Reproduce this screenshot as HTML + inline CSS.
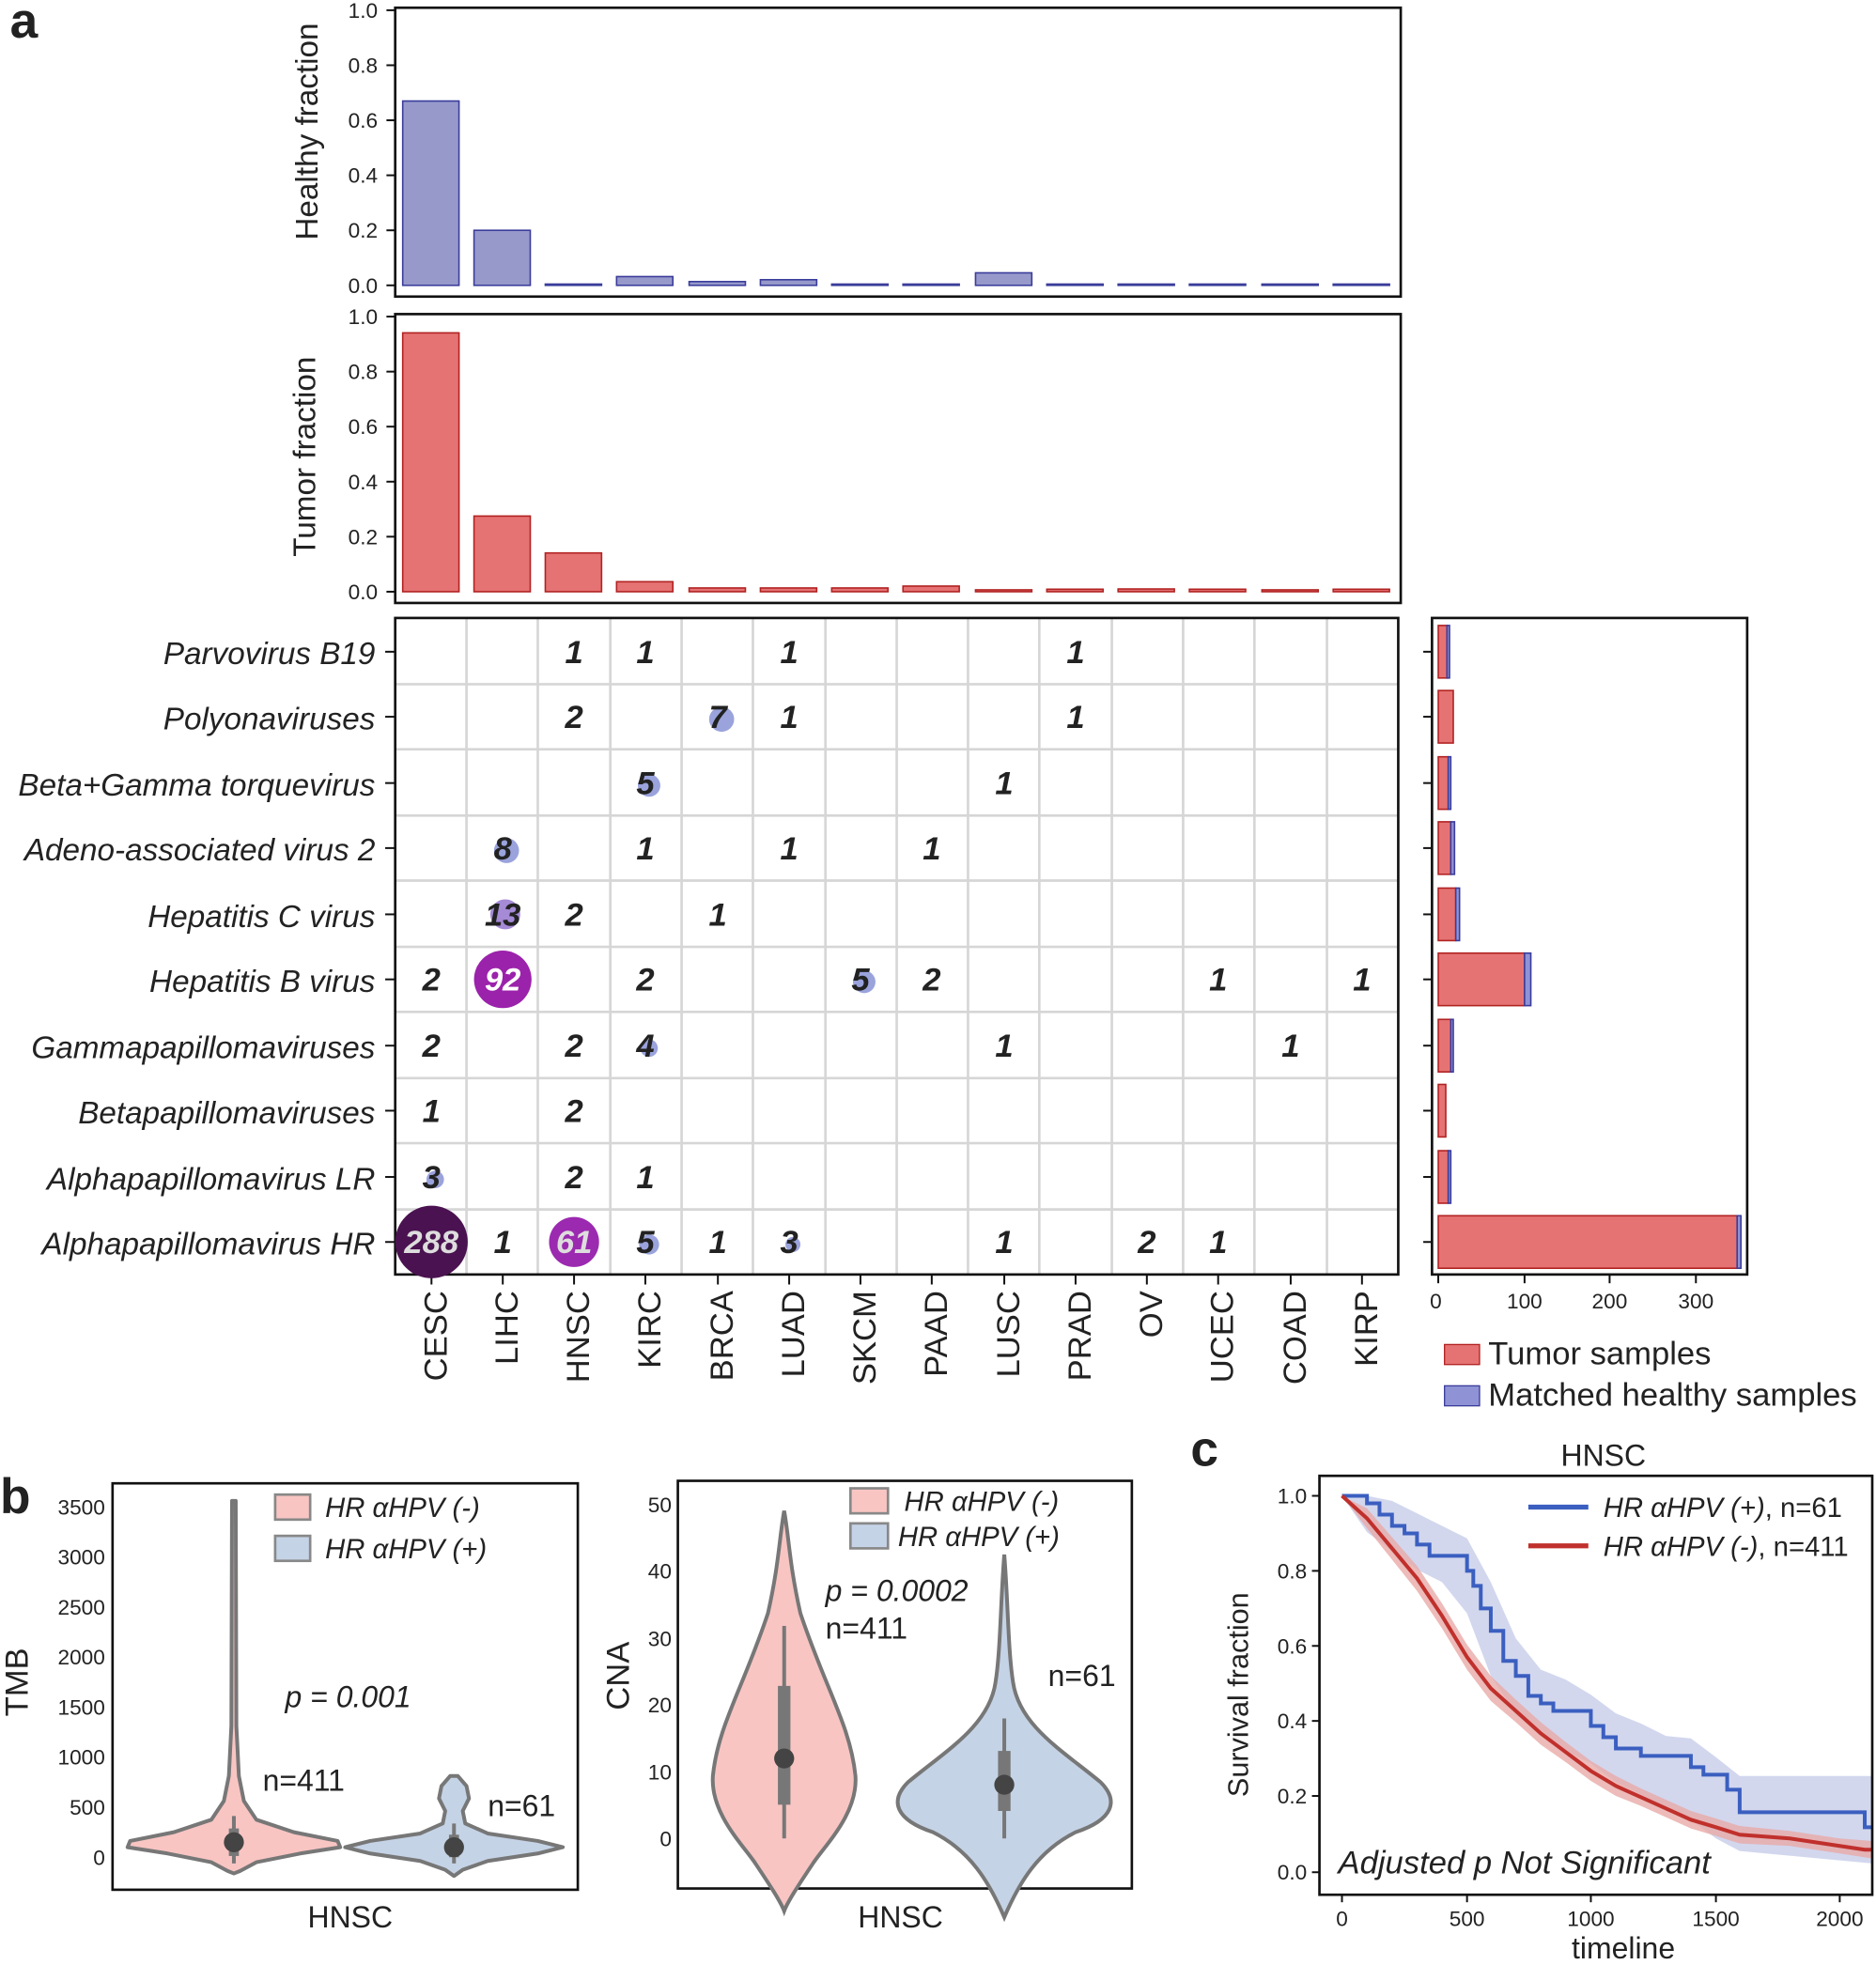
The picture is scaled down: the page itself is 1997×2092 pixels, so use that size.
<!DOCTYPE html>
<html><head><meta charset="utf-8"><style>
html,body{margin:0;padding:0;background:#fff}
svg{display:block}
text{font-family:"Liberation Sans",Arial,sans-serif;fill:#222}
.t{font-size:17px}
.lab{font-size:25px;font-style:italic;text-anchor:end}
.num{font-size:26px;font-style:italic;font-weight:bold;text-anchor:middle;fill:#333}
.xl{font-size:26px}
</style></head><body>
<svg width="1997" height="2092" viewBox="0 0 1500 1571" xmlns="http://www.w3.org/2000/svg">
<text x="8" y="30" style="font-size:40px;font-weight:bold">a</text>
<text x="0" y="1210" style="font-size:40px;font-weight:bold">b</text>
<text x="952" y="1172" style="font-size:40px;font-weight:bold">c</text>

<!-- Healthy panel -->
<g fill="#9799cb" stroke="#3a3c9a" stroke-width="1.2">
<rect x="322" y="80.6" width="45" height="147.4"/>
<rect x="379" y="184" width="45" height="44"/>
<rect x="436" y="227" width="45" height="1"/>
<rect x="493" y="221" width="45" height="7"/>
<rect x="551" y="225" width="45" height="3"/>
<rect x="608" y="223.5" width="45" height="4.5"/>
<rect x="665" y="227" width="45" height="1"/>
<rect x="722" y="227" width="45" height="1"/>
<rect x="780" y="218" width="45" height="10"/>
<rect x="837" y="227" width="45" height="1"/>
<rect x="894" y="227" width="45" height="1"/>
<rect x="951" y="227" width="45" height="1"/>
<rect x="1009" y="227" width="45" height="1"/>
<rect x="1066" y="227" width="45" height="1"/>
</g>
<rect x="316" y="6" width="804" height="231" fill="none" stroke="#111" stroke-width="2"/>
<g class="t" text-anchor="end">
<text x="302" y="14">1.0</text><text x="302" y="58">0.8</text><text x="302" y="102">0.6</text><text x="302" y="146">0.4</text><text x="302" y="190">0.2</text><text x="302" y="234">0.0</text>
</g>
<g stroke="#111" stroke-width="1.5"><line x1="309" y1="8" x2="316" y2="8"/><line x1="309" y1="52" x2="316" y2="52"/><line x1="309" y1="96" x2="316" y2="96"/><line x1="309" y1="140" x2="316" y2="140"/><line x1="309" y1="184" x2="316" y2="184"/><line x1="309" y1="228" x2="316" y2="228"/></g>
<text transform="translate(254,105) rotate(-90)" style="font-size:25px" text-anchor="middle">Healthy fraction</text>

<!-- Tumor panel -->
<g fill="#e57373" stroke="#b22222" stroke-width="1.2">
<rect x="322" y="266" width="45" height="207"/>
<rect x="379" y="412.5" width="45" height="60.5"/>
<rect x="436" y="442" width="45" height="31"/>
<rect x="493" y="465" width="45" height="8"/>
<rect x="551" y="470" width="45" height="3"/>
<rect x="608" y="470" width="45" height="3"/>
<rect x="665" y="470" width="45" height="3"/>
<rect x="722" y="468.5" width="45" height="4.5"/>
<rect x="780" y="471.5" width="45" height="1.5"/>
<rect x="837" y="471" width="45" height="2"/>
<rect x="894" y="470.8" width="45" height="2.2"/>
<rect x="951" y="471" width="45" height="2"/>
<rect x="1009" y="471.5" width="45" height="1.5"/>
<rect x="1066" y="471" width="45" height="2"/>
</g>
<rect x="316" y="251" width="804" height="231" fill="none" stroke="#111" stroke-width="2"/>
<g class="t" text-anchor="end">
<text x="302" y="259">1.0</text><text x="302" y="303">0.8</text><text x="302" y="347">0.6</text><text x="302" y="391">0.4</text><text x="302" y="435">0.2</text><text x="302" y="479">0.0</text>
</g>
<g stroke="#111" stroke-width="1.5"><line x1="309" y1="253" x2="316" y2="253"/><line x1="309" y1="297" x2="316" y2="297"/><line x1="309" y1="341" x2="316" y2="341"/><line x1="309" y1="385" x2="316" y2="385"/><line x1="309" y1="429" x2="316" y2="429"/><line x1="309" y1="473" x2="316" y2="473"/></g>
<text transform="translate(252,365) rotate(-90)" style="font-size:25px" text-anchor="middle">Tumor fraction</text>

<!-- Grid panel -->
<g stroke="#d6d6d6" stroke-width="2">
<line x1="373" y1="494" x2="373" y2="1019"/><line x1="430" y1="494" x2="430" y2="1019"/><line x1="488" y1="494" x2="488" y2="1019"/><line x1="545" y1="494" x2="545" y2="1019"/><line x1="602" y1="494" x2="602" y2="1019"/><line x1="660" y1="494" x2="660" y2="1019"/><line x1="717" y1="494" x2="717" y2="1019"/><line x1="774" y1="494" x2="774" y2="1019"/><line x1="831" y1="494" x2="831" y2="1019"/><line x1="889" y1="494" x2="889" y2="1019"/><line x1="946" y1="494" x2="946" y2="1019"/><line x1="1003" y1="494" x2="1003" y2="1019"/><line x1="1061" y1="494" x2="1061" y2="1019"/>
<line x1="316" y1="547" x2="1118" y2="547"/><line x1="316" y1="599" x2="1118" y2="599"/><line x1="316" y1="652" x2="1118" y2="652"/><line x1="316" y1="704" x2="1118" y2="704"/><line x1="316" y1="757" x2="1118" y2="757"/><line x1="316" y1="809" x2="1118" y2="809"/><line x1="316" y1="862" x2="1118" y2="862"/><line x1="316" y1="914" x2="1118" y2="914"/><line x1="316" y1="967" x2="1118" y2="967"/>
</g>
<rect x="316" y="494" width="802" height="525" fill="none" stroke="#111" stroke-width="2"/>
<g class="lab">
<text x="300" y="531">Parvovirus B19</text>
<text x="300" y="583">Polyonaviruses</text>
<text x="300" y="636">Beta+Gamma torquevirus</text>
<text x="300" y="688">Adeno-associated virus 2</text>
<text x="300" y="741">Hepatitis C virus</text>
<text x="300" y="793">Hepatitis B virus</text>
<text x="300" y="846">Gammapapillomaviruses</text>
<text x="300" y="898">Betapapillomaviruses</text>
<text x="300" y="951">Alphapapillomavirus LR</text>
<text x="300" y="1003">Alphapapillomavirus HR</text>
</g>
<g stroke="#111" stroke-width="1.5">
<line x1="308" y1="521" x2="316" y2="521"/><line x1="308" y1="573" x2="316" y2="573"/><line x1="308" y1="626" x2="316" y2="626"/><line x1="308" y1="678" x2="316" y2="678"/><line x1="308" y1="731" x2="316" y2="731"/><line x1="308" y1="783" x2="316" y2="783"/><line x1="308" y1="836" x2="316" y2="836"/><line x1="308" y1="888" x2="316" y2="888"/><line x1="308" y1="941" x2="316" y2="941"/><line x1="308" y1="993" x2="316" y2="993"/>
<line x1="345" y1="1019" x2="345" y2="1027"/><line x1="402" y1="1019" x2="402" y2="1027"/><line x1="459" y1="1019" x2="459" y2="1027"/><line x1="516" y1="1019" x2="516" y2="1027"/><line x1="574" y1="1019" x2="574" y2="1027"/><line x1="631" y1="1019" x2="631" y2="1027"/><line x1="688" y1="1019" x2="688" y2="1027"/><line x1="745" y1="1019" x2="745" y2="1027"/><line x1="803" y1="1019" x2="803" y2="1027"/><line x1="860" y1="1019" x2="860" y2="1027"/><line x1="917" y1="1019" x2="917" y2="1027"/><line x1="974" y1="1019" x2="974" y2="1027"/><line x1="1032" y1="1019" x2="1032" y2="1027"/><line x1="1089" y1="1019" x2="1089" y2="1027"/>
</g>
<!-- bubbles -->
<circle cx="345" cy="993" r="29" fill="#4a1250"/>
<circle cx="459" cy="993" r="20" fill="#9b2ab0"/>
<circle cx="402" cy="783" r="23" fill="#9b22ab"/>
<circle cx="404" cy="731" r="12" fill="#a58ad6"/>
<g fill="#9aa3dc">
<circle cx="577" cy="575" r="10"/><circle cx="519" cy="628" r="9"/><circle cx="405" cy="680" r="10"/>
<circle cx="691" cy="785" r="9"/><circle cx="519" cy="838" r="7"/><circle cx="348" cy="943" r="7"/>
<circle cx="519" cy="995" r="8"/><circle cx="634" cy="995" r="6"/>
</g>
<g class="num">
<text x="459" y="530">1</text><text x="516" y="530">1</text><text x="631" y="530">1</text><text x="860" y="530">1</text>
<text x="459" y="582">2</text><text x="574" y="582">7</text><text x="631" y="582">1</text><text x="860" y="582">1</text>
<text x="516" y="635">5</text><text x="803" y="635">1</text>
<text x="402" y="687">8</text><text x="516" y="687">1</text><text x="631" y="687">1</text><text x="745" y="687">1</text>
<text x="402" y="740">13</text><text x="459" y="740">2</text><text x="574" y="740">1</text>
<text x="345" y="792">2</text><text x="402" y="792" style="fill:#fff">92</text><text x="516" y="792">2</text><text x="688" y="792">5</text><text x="745" y="792">2</text><text x="974" y="792">1</text><text x="1089" y="792">1</text>
<text x="345" y="845">2</text><text x="459" y="845">2</text><text x="516" y="845">4</text><text x="803" y="845">1</text><text x="1032" y="845">1</text>
<text x="345" y="897">1</text><text x="459" y="897">2</text>
<text x="345" y="950">3</text><text x="459" y="950">2</text><text x="516" y="950">1</text>
<text x="345" y="1002" style="fill:#ddd">288</text><text x="402" y="1002">1</text><text x="459" y="1002" style="fill:#ddd">61</text><text x="516" y="1002">5</text><text x="574" y="1002">1</text><text x="631" y="1002">3</text><text x="803" y="1002">1</text><text x="917" y="1002">2</text><text x="974" y="1002">1</text>
</g>
<g class="xl">
<text transform="translate(357,1032) rotate(-90)" text-anchor="end">CESC</text>
<text transform="translate(414,1032) rotate(-90)" text-anchor="end">LIHC</text>
<text transform="translate(471,1032) rotate(-90)" text-anchor="end">HNSC</text>
<text transform="translate(528,1032) rotate(-90)" text-anchor="end">KIRC</text>
<text transform="translate(586,1032) rotate(-90)" text-anchor="end">BRCA</text>
<text transform="translate(643,1032) rotate(-90)" text-anchor="end">LUAD</text>
<text transform="translate(700,1032) rotate(-90)" text-anchor="end">SKCM</text>
<text transform="translate(757,1032) rotate(-90)" text-anchor="end">PAAD</text>
<text transform="translate(815,1032) rotate(-90)" text-anchor="end">LUSC</text>
<text transform="translate(872,1032) rotate(-90)" text-anchor="end">PRAD</text>
<text transform="translate(929,1032) rotate(-90)" text-anchor="end">OV</text>
<text transform="translate(986,1032) rotate(-90)" text-anchor="end">UCEC</text>
<text transform="translate(1044,1032) rotate(-90)" text-anchor="end">COAD</text>
<text transform="translate(1101,1032) rotate(-90)" text-anchor="end">KIRP</text>
</g>

<!-- Right bar panel -->
<g stroke-width="1.2">
<rect x="1150" y="500" width="7" height="42" fill="#e57373" stroke="#b22222"/><rect x="1157" y="500" width="2" height="42" fill="#8f93d6" stroke="#3a3c9a"/>
<rect x="1150" y="552" width="12" height="42" fill="#e57373" stroke="#b22222"/>
<rect x="1150" y="605" width="8" height="42" fill="#e57373" stroke="#b22222"/><rect x="1158" y="605" width="2" height="42" fill="#8f93d6" stroke="#3a3c9a"/>
<rect x="1150" y="657" width="10" height="42" fill="#e57373" stroke="#b22222"/><rect x="1160" y="657" width="3" height="42" fill="#8f93d6" stroke="#3a3c9a"/>
<rect x="1150" y="710" width="14" height="42" fill="#e57373" stroke="#b22222"/><rect x="1164" y="710" width="3" height="42" fill="#8f93d6" stroke="#3a3c9a"/>
<rect x="1150" y="762" width="69" height="42" fill="#e57373" stroke="#b22222"/><rect x="1219" y="762" width="5" height="42" fill="#8f93d6" stroke="#3a3c9a"/>
<rect x="1150" y="815" width="10" height="42" fill="#e57373" stroke="#b22222"/><rect x="1160" y="815" width="2" height="42" fill="#8f93d6" stroke="#3a3c9a"/>
<rect x="1150" y="867" width="6" height="42" fill="#e57373" stroke="#b22222"/>
<rect x="1150" y="920" width="8" height="42" fill="#e57373" stroke="#b22222"/><rect x="1158" y="920" width="2" height="42" fill="#8f93d6" stroke="#3a3c9a"/>
<rect x="1150" y="972" width="239" height="42" fill="#e57373" stroke="#b22222"/><rect x="1389" y="972" width="3" height="42" fill="#8f93d6" stroke="#3a3c9a"/>
</g>
<rect x="1145" y="494" width="252" height="525" fill="none" stroke="#111" stroke-width="2"/>
<g stroke="#111" stroke-width="1.5">
<line x1="1138" y1="521" x2="1145" y2="521"/><line x1="1138" y1="573" x2="1145" y2="573"/><line x1="1138" y1="626" x2="1145" y2="626"/><line x1="1138" y1="678" x2="1145" y2="678"/><line x1="1138" y1="731" x2="1145" y2="731"/><line x1="1138" y1="783" x2="1145" y2="783"/><line x1="1138" y1="836" x2="1145" y2="836"/><line x1="1138" y1="888" x2="1145" y2="888"/><line x1="1138" y1="941" x2="1145" y2="941"/><line x1="1138" y1="993" x2="1145" y2="993"/>
<line x1="1150" y1="1019" x2="1150" y2="1026"/><line x1="1219" y1="1019" x2="1219" y2="1026"/><line x1="1287" y1="1019" x2="1287" y2="1026"/><line x1="1356" y1="1019" x2="1356" y2="1026"/>
</g>
<g class="t" text-anchor="middle"><text x="1148" y="1046">0</text><text x="1219" y="1046">100</text><text x="1287" y="1046">200</text><text x="1356" y="1046">300</text></g>
<rect x="1155" y="1075" width="28" height="16" fill="#e57373" stroke="#b22222"/>
<text x="1190" y="1091" style="font-size:26px">Tumor samples</text>
<rect x="1155" y="1108" width="28" height="16" fill="#8f93d6" stroke="#3a3c9a"/>
<text x="1190" y="1124" style="font-size:26px">Matched healthy samples</text>

<!-- Panel b1 TMB -->
<rect x="90" y="1186" width="372" height="325" fill="none" stroke="#111" stroke-width="2"/>
<g class="t" text-anchor="end">
<text x="84" y="1211">3500</text><text x="84" y="1251">3000</text><text x="84" y="1291">2500</text><text x="84" y="1331">2000</text><text x="84" y="1371">1500</text><text x="84" y="1411">1000</text><text x="84" y="1451">500</text><text x="84" y="1491">0</text>
</g>
<text transform="translate(22,1345) rotate(-90)" style="font-size:26px" text-anchor="middle">TMB</text>
<text x="280" y="1541" style="font-size:24px" text-anchor="middle">HNSC</text>
<polygon points="188.5,1200 189,1380 191,1420 195,1440 205,1455 235,1465 270,1472 272,1477 240,1482 205,1489 192,1496 187,1498 182,1496 169,1489 134,1482 102,1477 104,1472 139,1465 169,1455 179,1440 183,1420 185,1380 185.5,1200" fill="#f8c5c3" stroke="#777" stroke-width="3" stroke-linejoin="round"/>
<polygon points="366,1420 373,1428 375,1438 370,1448 372,1458 390,1466 430,1472 450,1477 430,1482 390,1488 370,1495 363,1500 356,1495 336,1488 296,1482 276,1477 296,1472 336,1466 354,1458 356,1448 351,1438 353,1428 360,1420" fill="#c5d3e6" stroke="#777" stroke-width="3" stroke-linejoin="round"/>
<line x1="187" y1="1452" x2="187" y2="1490" stroke="#777" stroke-width="3"/><rect x="183" y="1462" width="8" height="22" fill="#777"/><circle cx="187" cy="1473" r="8" fill="#444"/>
<line x1="363" y1="1458" x2="363" y2="1490" stroke="#777" stroke-width="3"/><rect x="359" y="1467" width="8" height="18" fill="#777"/><circle cx="363" cy="1477" r="8" fill="#444"/>
<rect x="220" y="1195" width="28" height="20" fill="#f8c5c3" stroke="#888" stroke-width="2"/>
<text x="260" y="1213" style="font-size:22px;font-style:italic">HR αHPV (-)</text>
<rect x="220" y="1228" width="28" height="20" fill="#c5d3e6" stroke="#888" stroke-width="2"/>
<text x="260" y="1246" style="font-size:22px;font-style:italic">HR αHPV (+)</text>
<text x="228" y="1365" style="font-size:24px;font-style:italic">p = 0.001</text>
<text x="210" y="1432" style="font-size:24px">n=411</text>
<text x="390" y="1452" style="font-size:24px">n=61</text>

<!-- Panel b2 CNA -->
<rect x="542" y="1184" width="363" height="326" fill="none" stroke="#111" stroke-width="2"/>
<g class="t" text-anchor="end">
<text x="537" y="1209">50</text><text x="537" y="1262">40</text><text x="537" y="1316">30</text><text x="537" y="1369">20</text><text x="537" y="1423">10</text><text x="537" y="1476">0</text>
</g>
<text transform="translate(503,1340) rotate(-90)" style="font-size:26px" text-anchor="middle">CNA</text>
<text x="720" y="1541" style="font-size:24px" text-anchor="middle">HNSC</text>
<path d="M627,1208 C631,1230 631,1250 640,1290 C660,1350 680,1380 684,1420 C686,1450 660,1475 650,1490 C640,1505 630,1520 627,1528 C624,1520 614,1505 604,1490 C594,1475 568,1450 570,1420 C574,1380 594,1350 614,1290 C623,1250 623,1230 627,1208 Z" fill="#f8c5c3" stroke="#777" stroke-width="3"/>
<path d="M803,1243 C806,1280 806,1320 810,1345 C815,1380 850,1400 880,1425 C895,1440 890,1455 860,1465 C830,1480 815,1505 803,1533 C791,1505 776,1480 746,1465 C716,1455 711,1440 726,1425 C756,1400 791,1380 796,1345 C800,1320 800,1280 803,1243 Z" fill="#c5d3e6" stroke="#777" stroke-width="3"/>
<line x1="627" y1="1300" x2="627" y2="1470" stroke="#777" stroke-width="3"/><rect x="622" y="1348" width="10" height="95" fill="#777"/><circle cx="627" cy="1406" r="8" fill="#444"/>
<line x1="803" y1="1374" x2="803" y2="1470" stroke="#777" stroke-width="3"/><rect x="798" y="1400" width="10" height="48" fill="#777"/><circle cx="803" cy="1427" r="8" fill="#444"/>
<rect x="680" y="1190" width="30" height="20" fill="#f8c5c3" stroke="#888" stroke-width="2"/>
<text x="723" y="1208" style="font-size:22px;font-style:italic">HR αHPV (-)</text>
<rect x="680" y="1218" width="30" height="20" fill="#c5d3e6" stroke="#888" stroke-width="2"/>
<text x="718" y="1236" style="font-size:22px;font-style:italic">HR αHPV (+)</text>
<text x="660" y="1280" style="font-size:24px;font-style:italic">p = 0.0002</text>
<text x="660" y="1310" style="font-size:24px">n=411</text>
<text x="838" y="1348" style="font-size:24px">n=61</text>

<!-- Panel c survival -->
<text x="1282" y="1172" style="font-size:24px" text-anchor="middle">HNSC</text>
<polygon points="1073,1196 1093,1196 1113,1200 1133,1210 1153,1220 1173,1230 1192,1265 1212,1310 1232,1335 1252,1343 1272,1355 1292,1370 1312,1378 1332,1388 1352,1390 1372,1405 1391,1420 1497,1420 1497,1490 1391,1480 1372,1470 1352,1455 1332,1445 1312,1435 1292,1425 1272,1410 1252,1400 1232,1385 1212,1370 1192,1340 1173,1290 1153,1265 1133,1255 1113,1240 1093,1225 1073,1196" fill="#c7cdea" opacity="0.8"/>
<polygon points="1073,1196 1093,1206 1113,1229 1133,1252 1153,1282 1173,1315 1192,1340 1212,1359 1232,1377 1252,1393 1272,1408 1292,1420 1312,1430 1332,1439 1352,1448 1372,1454 1391,1460 1431,1464 1471,1470 1497,1472 1497,1486 1471,1482 1431,1476 1391,1474 1372,1468 1352,1462 1332,1453 1312,1444 1292,1436 1272,1424 1252,1409 1232,1395 1212,1377 1192,1360 1173,1335 1153,1302 1133,1272 1113,1247 1093,1222 1073,1196" fill="#e9aaa8" opacity="0.8"/>
<path d="M1073,1196 H1093 V1202 H1103 V1211 H1113 V1220 H1123 V1226 H1133 V1235 H1143 V1244 H1173 V1256 H1178 V1268 H1184 V1286 H1192 V1304 H1202 V1328 H1212 V1340 H1222 V1356 H1232 V1362 H1242 V1368 H1272 V1380 H1282 V1389 H1292 V1398 H1312 V1404 H1352 V1413 H1362 V1419 H1381 V1431 H1391 V1449 H1491 V1461 H1497" fill="none" stroke="#3b5fc0" stroke-width="3"/>
<polyline points="1073,1196 1093,1214 1113,1238 1133,1262 1153,1292 1173,1325 1192,1350 1212,1368 1232,1386 1252,1401 1272,1416 1292,1428 1312,1437 1332,1446 1352,1455 1372,1461 1391,1467 1431,1470 1471,1476 1491,1479 1497,1479" fill="none" stroke="#c0302c" stroke-width="3"/>
<rect x="1055" y="1180" width="442" height="335" fill="none" stroke="#111" stroke-width="2"/>
<g class="t" text-anchor="end">
<text x="1045" y="1202">1.0</text><text x="1045" y="1262">0.8</text><text x="1045" y="1322">0.6</text><text x="1045" y="1382">0.4</text><text x="1045" y="1442">0.2</text><text x="1045" y="1503">0.0</text>
</g>
<g stroke="#111" stroke-width="1.5"><line x1="1049" y1="1196" x2="1055" y2="1196"/><line x1="1049" y1="1256" x2="1055" y2="1256"/><line x1="1049" y1="1316" x2="1055" y2="1316"/><line x1="1049" y1="1376" x2="1055" y2="1376"/><line x1="1049" y1="1436" x2="1055" y2="1436"/><line x1="1049" y1="1497" x2="1055" y2="1497"/>
<line x1="1073" y1="1515" x2="1073" y2="1521"/><line x1="1173" y1="1515" x2="1173" y2="1521"/><line x1="1272" y1="1515" x2="1272" y2="1521"/><line x1="1372" y1="1515" x2="1372" y2="1521"/><line x1="1471" y1="1515" x2="1471" y2="1521"/></g>
<g class="t" text-anchor="middle"><text x="1073" y="1540">0</text><text x="1173" y="1540">500</text><text x="1272" y="1540">1000</text><text x="1372" y="1540">1500</text><text x="1471" y="1540">2000</text></g>
<text x="1298" y="1566" style="font-size:24px" text-anchor="middle">timeline</text>
<text transform="translate(998,1355) rotate(-90)" style="font-size:23px" text-anchor="middle">Survival fraction</text>
<line x1="1222" y1="1205" x2="1270" y2="1205" stroke="#3b5fc0" stroke-width="4"/>
<text x="1282" y="1213" style="font-size:22px"><tspan font-style="italic">HR αHPV (+)</tspan>, n=61</text>
<line x1="1222" y1="1236" x2="1270" y2="1236" stroke="#c0302c" stroke-width="4"/>
<text x="1282" y="1244" style="font-size:22px"><tspan font-style="italic">HR αHPV (-)</tspan>, n=411</text>
<text x="1070" y="1498" style="font-size:26px;font-style:italic">Adjusted p Not Significant</text>
</svg>
</body></html>
